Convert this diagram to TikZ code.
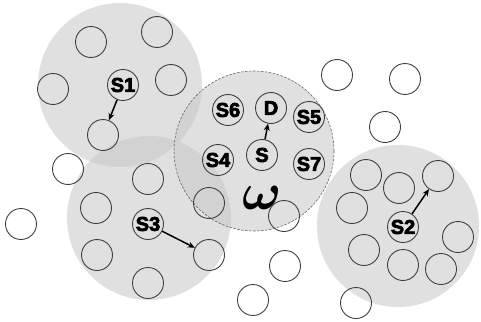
\documentclass[tikz,border=0pt]{standalone}
\usepackage{bm}
\usepackage{fontspec}
\setmainfont{Liberation Sans}[BoldFont={Liberation Sans Bold}]
\usetikzlibrary{arrows.meta}
\definecolor{zonegray}{HTML}{E0E0E0}
\definecolor{overgray}{HTML}{D2D2D2}
\newcommand{\heavytext}[1]{\special{pdf:literal direct 2 Tr 0.7 w}#1\special{pdf:literal direct 0 Tr}}
\begin{document}
\begin{tikzpicture}[x=1pt,y=-1pt,
  wline/.style={draw=black!60,line width=0.6pt,dash pattern=on 2.5pt off 1.5pt},
  nd/.style={circle,draw=black!75,line width=0.9pt,minimum size=31pt,inner sep=0pt,
     font=\fontsize{20}{20}\selectfont\bfseries},
  arr/.style={-{Stealth[length=7pt,width=6pt]},line width=1.5pt}]
\useasboundingbox[fill=white] (0,0) rectangle (481,321);
% shaded regions
\def\cA{(120,85) circle (82)}
\def\cB{(149,218) circle (82)}
\def\cC{(398,226) circle (81)}
\def\cW{(254,151) circle (80)}
\fill[zonegray] \cA;
\fill[zonegray] \cB;
\fill[zonegray] \cC;
\fill[zonegray] \cW;
\begin{scope}\clip \cA; \fill[overgray] \cB; \fill[overgray] \cW; \end{scope}
\begin{scope}\clip \cB; \fill[overgray] \cW; \end{scope}
\begin{scope}\clip \cC; \fill[overgray] \cW; \end{scope}
\draw[wline] \cW;
% omega
\node[scale=5.2] (w) at (262,198) {$\bm{\omega}$};
% labelled nodes
\node[nd] (s1) at (123,85) {\heavytext{S1}};
\node[nd] (s2) at (403,227) {\heavytext{S2}};
\node[nd] (s3) at (148,224) {\heavytext{S3}};
\node[nd] (s4) at (218,160) {\heavytext{S4}};
\node[nd] (s5) at (309,117) {\heavytext{S5}};
\node[nd] (s6) at (228,110) {\heavytext{S6}};
\node[nd] (s7) at (309,164) {\heavytext{S7}};
\node[nd] (s) at (262,155) {\heavytext{S}};
\node[nd] (d) at (271,108) {\heavytext{D}};
% plain nodes
\node[nd] (a1) at (91,42) {};
\node[nd] (a2) at (157,32) {};
\node[nd] (a3) at (53,89) {};
\node[nd] (a4) at (171,80) {};
\node[nd] (a5) at (103,135) {};
\node[nd] (b1) at (68,169) {};
\node[nd] (b2) at (21,224) {};
\node[nd] (b3) at (148,179) {};
\node[nd] (b4) at (96,208) {};
\node[nd] (b5) at (209,203) {};
\node[nd] (b6) at (209,255) {};
\node[nd] (b7) at (97,255) {};
\node[nd] (b8) at (148,283) {};
\node[nd] (c1) at (366,175) {};
\node[nd] (c2) at (399,188) {};
\node[nd] (c3) at (438,176) {};
\node[nd] (c4) at (352,208) {};
\node[nd] (c5) at (458,237) {};
\node[nd] (c6) at (364,250) {};
\node[nd] (c7) at (403,265) {};
\node[nd] (c8) at (441,269) {};
\node[nd] (e1) at (285,266) {};
\node[nd] (e2) at (253,300) {};
\node[nd] (e3) at (356,303) {};
\node[nd] (e4) at (284,216) {};
\node[nd] (f1) at (337,75) {};
\node[nd] (f2) at (405,79) {};
\node[nd] (f3) at (385,127) {};
% arrows
\draw[arr] (s1) -- (a5);
\draw[arr] (s3) -- (b6);
\draw[arr] (s2) -- (c3);
\draw[arr] (s) -- (d);
\end{tikzpicture}
\end{document}
